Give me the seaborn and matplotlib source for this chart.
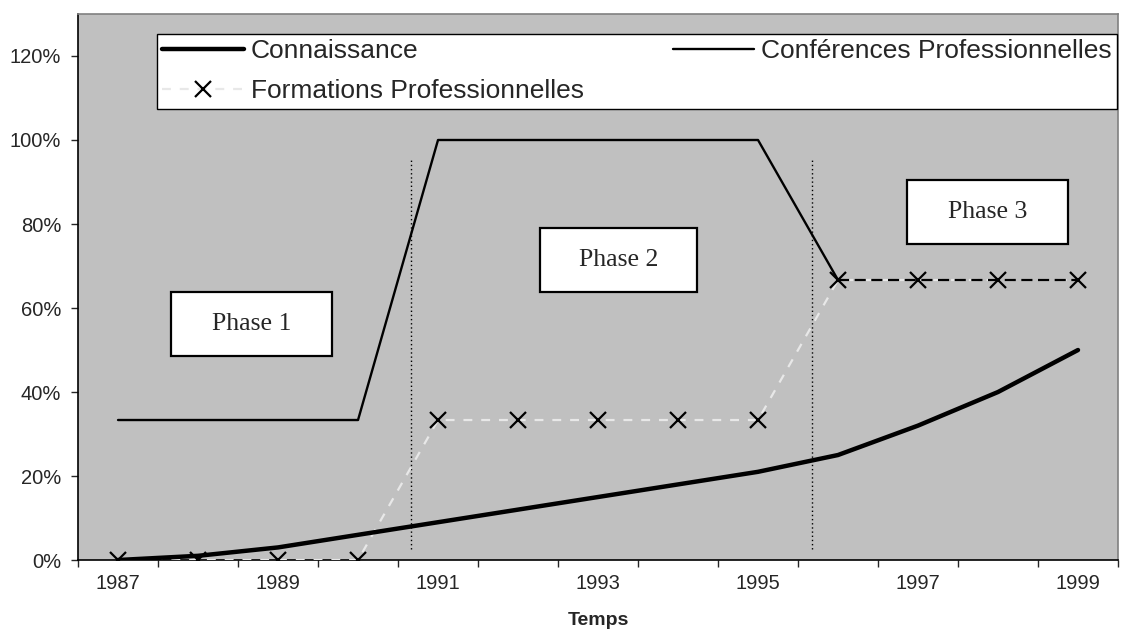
import matplotlib.pyplot as plt
import matplotlib.patches as mpatches
import pandas as pd
import seaborn as sns
from matplotlib.ticker import FixedLocator, PercentFormatter

years = list(range(1987, 2000))
connaissance = [0.0, 0.01, 0.03, 0.06, 0.09, 0.12, 0.15, 0.18, 0.21, 0.25, 0.32, 0.40, 0.50]
conferences = [1/3, 1/3, 1/3, 1/3, 1, 1, 1, 1, 1, 2/3, None, None, None]
conferences_suite = [None] * 9 + [2/3, 2/3, 2/3, 2/3]
formations = [0, 0, 0, 0, 1/3, 1/3, 1/3, 1/3, 1/3, 2/3, 2/3, 2/3, 2/3]

phase_labels = ["Phase 1", "Phase 2", "Phase 3"]
phase_boundaries = [1990.66, 1995.67]

sns.set_style("white")
plt.rcParams["font.family"] = ["Liberation Sans", "DejaVu Sans"]

df = pd.DataFrame({
    "annee": years,
    "connaissance": connaissance,
    "conferences": conferences,
    "conferences_suite": conferences_suite,
    "formations": formations,
}).astype(float)

fig = plt.figure(figsize=(11.26, 6.39), dpi=100)
ax = fig.add_axes([0.0693, 0.1236, 0.9236, 0.8545])
ax.set_facecolor("#C0C0C0")

# Formations (light grey dashed with x markers)
sns.lineplot(data=df, x="annee", y="formations", ax=ax, color="#E8E8E8", lw=1.6,
             label="Formations Professionnelles", zorder=3)
fl = ax.lines[-1]
fl.set_dashes((4, 4))
fl.set_marker("x")
fl.set_markersize(11)
fl.set_markeredgewidth(1.6)
fl.set_markeredgecolor("black")

# black dashed continuation after 1996
sns.lineplot(data=df, x="annee", y="conferences_suite", ax=ax, color="black", lw=1.6,
             label="_nolegend_", zorder=4)
ax.lines[-1].set_dashes((5, 2.5))

sns.lineplot(data=df, x="annee", y="conferences", ax=ax, color="black", lw=1.7,
             label="Conférences Professionnelles", zorder=5)
sns.lineplot(data=df, x="annee", y="connaissance", ax=ax, color="black", lw=3.2,
             label="Connaissance", zorder=6)

# phase separators
for b in phase_boundaries:
    ax.plot([b, b], [0.026, 0.952], color="black", lw=1, ls=(0, (1, 2)), zorder=2)

# phase boxes
boxes = [(1987.66, 0.486, 2.02, 0.152), (1992.28, 0.638, 1.96, 0.152), (1996.86, 0.752, 2.02, 0.153)]
for lab, (x0, y0, w, h) in zip(phase_labels, boxes):
    ax.add_patch(mpatches.Rectangle((x0, y0), w, h, facecolor="white", edgecolor="black",
                                    lw=1.6, zorder=7))
    ax.text(x0 + w / 2, y0 + h / 2, lab, ha="center", va="center", fontsize=18.5,
            family=["Liberation Serif", "DejaVu Serif"], zorder=8)

ax.set_xlim(1986.5, 1999.5)
ax.set_ylim(0, 1.30)
ax.xaxis.set_major_locator(FixedLocator(years[::2]))
ax.xaxis.set_minor_locator(FixedLocator([y + 0.5 for y in range(1986, 2000)]))
ax.tick_params(axis="x", which="major", length=0, pad=10, labelsize=14.5)
ax.tick_params(axis="x", which="minor", length=5, width=1, direction="out", bottom=True)
ax.set_yticks([0, 0.2, 0.4, 0.6, 0.8, 1.0, 1.2])
ax.yaxis.set_major_formatter(PercentFormatter(1.0, decimals=0))
ax.tick_params(axis="y", length=5, width=1, direction="out", left=True, pad=7, labelsize=14.5)

for side in ["left", "bottom"]:
    ax.spines[side].set_color("black")
    ax.spines[side].set_linewidth(1.2)
for side in ["top", "right"]:
    ax.spines[side].set_color("#808080")
    ax.spines[side].set_linewidth(1.2)

ax.set_xlabel("Temps", fontsize=14, fontweight="bold", labelpad=14)
ax.set_ylabel("")

# column-major fill: col 1 = Connaissance, Formations ; col 2 = Conférences
h, l = ax.get_legend_handles_labels()
order = [l.index("Connaissance"), l.index("Formations Professionnelles"),
         l.index("Conférences Professionnelles")]
leg = ax.legend([h[i] for i in order], [l[i] for i in order], ncol=2,
                loc="upper left", bbox_to_anchor=(0.076, 0.963, 0.923, 0.0), mode="expand",
                fontsize=19, frameon=True, fancybox=False, framealpha=1,
                edgecolor="black", handlelength=3.1, handletextpad=0.25,
                borderpad=0.2, labelspacing=0.6, borderaxespad=0)
leg.get_frame().set_linewidth(1)
leg.set_zorder(10)

fig.savefig("out.png", dpi=100)
